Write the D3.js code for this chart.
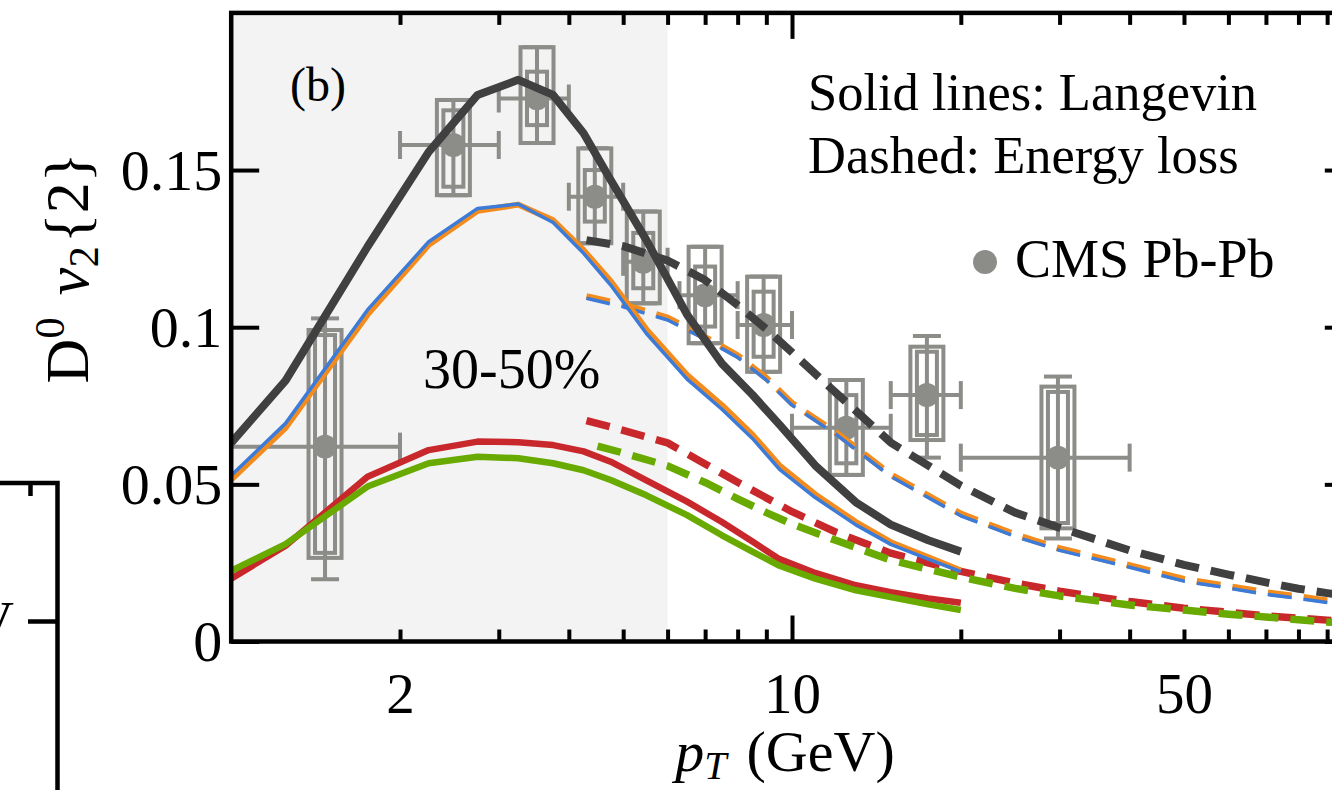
<!DOCTYPE html>
<html>
<head>
<meta charset="utf-8">
<script src="https://cdn.jsdelivr.net/npm/d3@7"></script>
<style>
body { margin: 0; background: #fff; }
svg { display: block; font-family: "Liberation Serif", "Times New Roman", serif; }
</style>
</head>
<body>
<div id="chart"></div>
<script>
// Langevin (solid) curves
const langevinPt = [1.0, 1.25, 1.75, 2.25, 2.75, 3.25, 3.75, 4.25, 4.75, 5.5, 6.5, 7.5, 8.5, 9.5, 11, 13, 15, 17.5, 20]
const langevinBlack = [0.0632, 0.0830, 0.1256, 0.1558, 0.1739, 0.1787, 0.1739, 0.1617, 0.1468, 0.1277, 0.1040, 0.0884, 0.0785, 0.0690, 0.0560, 0.0443, 0.0372, 0.0322, 0.0286]
const langevinOrange = [0.0515, 0.0680, 0.1040, 0.1262, 0.1370, 0.1390, 0.1340, 0.1245, 0.1146, 0.0993, 0.0848, 0.0752, 0.0658, 0.0560, 0.0468, 0.0380, 0.0316, 0.0268, 0.0226]
const langevinBlue = [0.0528, 0.0694, 0.1055, 0.1272, 0.1378, 0.1392, 0.1333, 0.1235, 0.1134, 0.0980, 0.0835, 0.0739, 0.0646, 0.0548, 0.0458, 0.0371, 0.0309, 0.0262, 0.0222]
const langevinRed = [0.0200, 0.0305, 0.0524, 0.0609, 0.0636, 0.0634, 0.0625, 0.0605, 0.0572, 0.0513, 0.0445, 0.0380, 0.0318, 0.0262, 0.0218, 0.0179, 0.0157, 0.0137, 0.0123]
const langevinGreen = [0.0225, 0.0310, 0.0493, 0.0567, 0.0588, 0.0583, 0.0567, 0.0545, 0.0514, 0.0465, 0.0402, 0.0338, 0.0286, 0.0241, 0.0200, 0.0163, 0.0141, 0.0118, 0.0100]

// energy loss (dashed) curves
const elossPt = [4.3, 5, 6, 7, 8, 9, 10, 12, 15, 20, 25, 30, 40, 50, 60, 70, 80, 90, 100]
const elossBlack = [0.1277, 0.1258, 0.1212, 0.1150, 0.1070, 0.0994, 0.0920, 0.0790, 0.0633, 0.0496, 0.0410, 0.0362, 0.0290, 0.0244, 0.0213, 0.0188, 0.0168, 0.0154, 0.0142]
const elossOrange = [0.1098, 0.1072, 0.1030, 0.0968, 0.0910, 0.0838, 0.0758, 0.0664, 0.0531, 0.0406, 0.0340, 0.0296, 0.0242, 0.0198, 0.0176, 0.0156, 0.0143, 0.0130, 0.0121]
const elossBlue = [0.1092, 0.1065, 0.1023, 0.0962, 0.0904, 0.0832, 0.0752, 0.0658, 0.0525, 0.0400, 0.0334, 0.0290, 0.0236, 0.0192, 0.0170, 0.0150, 0.0137, 0.0124, 0.0115]
const elossRed = [0.0703, 0.0672, 0.0632, 0.0565, 0.0507, 0.0457, 0.0413, 0.0347, 0.0281, 0.0223, 0.0186, 0.0160, 0.0127, 0.0106, 0.0093, 0.0082, 0.0074, 0.0068, 0.0063]
const elossGreenPt = [4.5, 5, 6, 7, 8, 9, 10, 12, 15, 20, 25, 30, 40, 50, 60, 70, 80, 90, 100]
const elossGreen = [0.0622, 0.0600, 0.0559, 0.0506, 0.0454, 0.0410, 0.0374, 0.0321, 0.0259, 0.0205, 0.0169, 0.0145, 0.0116, 0.0100, 0.0087, 0.0078, 0.0069, 0.0062, 0.0057]

// CMS Pb-Pb data
const cmsPt = [1.47, 2.49, 3.51, 4.45, 5.43, 7.0, 8.9, 12.5, 17.4, 29.8]
const cmsV2 = [0.0620, 0.1580, 0.1728, 0.1415, 0.1208, 0.1102, 0.1007, 0.0680, 0.0784, 0.0585]
const cmsPtLo = [1.0, 2, 3, 4, 5, 6.3, 8, 10, 15, 20]
const cmsPtHi = [2, 3, 4, 5, 6, 8, 10, 15, 20, 40]
const cmsStatLo = [0.0198, 0.1420, 0.1586, 0.1267, 0.1076, 0.0949, 0.0858, 0.0530, 0.0585, 0.0328]
const cmsStatHi = [0.1028, 0.1723, 0.1891, 0.1569, 0.1368, 0.1256, 0.1161, 0.0832, 0.0972, 0.0843]
const cmsSysLo = [0.0266, 0.1420, 0.1586, 0.1267, 0.1076, 0.0949, 0.0858, 0.0530, 0.0641, 0.0360]
const cmsSysHi = [0.0991, 0.1723, 0.1891, 0.1569, 0.1368, 0.1256, 0.1161, 0.0832, 0.0938, 0.0811]
const cmsSys2Lo = [0.0282, 0.1447, 0.1643, 0.1336, 0.1124, 0.1002, 0.0906, 0.0567, 0.0657, 0.0377]
const cmsSys2Hi = [0.0975, 0.1690, 0.1813, 0.1500, 0.1300, 0.1193, 0.1113, 0.0784, 0.0922, 0.0794]

const xMinorTicks = [2, 3, 4, 5, 6, 7, 8, 9, 20, 30, 40, 50, 60, 70, 80, 90]
const xMajorTicks = [10]
const xTickLabels = [2, 10, 50]
const yTicks = [0, 0.05, 0.1, 0.15]
const yTickLabels = ["0", "0.05", "0.1", "0.15"]

const width = 1332, height = 790
const gray = "#8c8d89"

const svg = d3.select("#chart").append("svg")
  .attr("width", width)
  .attr("height", height)

const x = d3.scaleLog().domain([1, 100]).range([231.2, 1352.8])
const y = d3.scaleLinear().domain([0, 0.2]).range([641.5, 12.9])

svg.append("clipPath").attr("id", "plotclip")
  .append("rect")
  .attr("x", x(1)).attr("y", y(0.2))
  .attr("width", x(100) - x(1)).attr("height", y(0) - y(0.2))

// shaded low-pT region
svg.append("rect")
  .attr("x", x(1)).attr("y", y(0.2))
  .attr("width", x(6) - x(1)).attr("height", y(0) - y(0.2))
  .attr("fill", "#f3f3f3")

const plot = svg.append("g").attr("clip-path", "url(#plotclip)")

// CMS points
const cms = cmsPt.map((p, i) => ({
  pt: p, v: cmsV2[i], lo: cmsPtLo[i], hi: cmsPtHi[i],
  sLo: cmsStatLo[i], sHi: cmsStatHi[i],
  yLo: cmsSysLo[i], yHi: cmsSysHi[i],
  y2Lo: cmsSys2Lo[i], y2Hi: cmsSys2Hi[i]
}))

const pts = plot.append("g")
  .attr("stroke", gray)
  .attr("fill", "none")
  .attr("stroke-width", 4)
  .selectAll("g")
  .data(cms)
  .enter()
  .append("g")

pts.append("line")
  .attr("x1", d => x(d.lo)).attr("x2", d => x(d.hi))
  .attr("y1", d => y(d.v)).attr("y2", d => y(d.v))
pts.append("line")
  .attr("x1", d => x(d.lo)).attr("x2", d => x(d.lo))
  .attr("y1", d => y(d.v) - 14).attr("y2", d => y(d.v) + 14)
pts.append("line")
  .attr("x1", d => x(d.hi)).attr("x2", d => x(d.hi))
  .attr("y1", d => y(d.v) - 14).attr("y2", d => y(d.v) + 14)
pts.append("rect")
  .attr("x", d => x(d.pt) - 16.5).attr("width", 33)
  .attr("y", d => y(d.yHi)).attr("height", d => y(d.yLo) - y(d.yHi))
pts.append("rect")
  .attr("x", d => x(d.pt) - 10).attr("width", 20)
  .attr("y", d => y(d.y2Hi)).attr("height", d => y(d.y2Lo) - y(d.y2Hi))
pts.append("line")
  .attr("x1", d => x(d.pt)).attr("x2", d => x(d.pt))
  .attr("y1", d => y(d.sHi)).attr("y2", d => y(d.sLo))
pts.append("line")
  .attr("x1", d => x(d.pt) - 14).attr("x2", d => x(d.pt) + 14)
  .attr("y1", d => y(d.sHi)).attr("y2", d => y(d.sHi))
pts.append("line")
  .attr("x1", d => x(d.pt) - 14).attr("x2", d => x(d.pt) + 14)
  .attr("y1", d => y(d.sLo)).attr("y2", d => y(d.sLo))
pts.append("circle")
  .attr("cx", d => x(d.pt)).attr("cy", d => y(d.v))
  .attr("r", 12)
  .attr("stroke", "none")
  .attr("fill", gray)

// curves
const line = d3.line().x(d => x(d[0])).y(d => y(d[1]))

const curves = [
  {pt: elossPt, v: elossRed, color: "#c8282c", w: 7.5, dash: "24,12"},
  {pt: elossGreenPt, v: elossGreen, color: "#68aa00", w: 7.5, dash: "24,12"},
  {pt: elossPt, v: elossOrange, color: "#f38b1d", w: 6.5, dash: "24,12"},
  {pt: elossPt, v: elossBlue, color: "#3c7bd8", w: 3.5, dash: "24,12"},
  {pt: elossPt, v: elossBlack, color: "#404040", w: 8, dash: "24,12"},
  {pt: langevinPt, v: langevinRed, color: "#c8282c", w: 6.5, dash: null},
  {pt: langevinPt, v: langevinGreen, color: "#68aa00", w: 6.5, dash: null},
  {pt: langevinPt, v: langevinOrange, color: "#f38b1d", w: 6, dash: null},
  {pt: langevinPt, v: langevinBlue, color: "#3c7bd8", w: 3.5, dash: null},
  {pt: langevinPt, v: langevinBlack, color: "#404040", w: 8, dash: null}
]

plot.append("g")
  .selectAll("path")
  .data(curves)
  .enter()
  .append("path")
  .attr("d", c => line(d3.zip(c.pt, c.v)))
  .attr("fill", "none")
  .attr("stroke", c => c.color)
  .attr("stroke-width", c => c.w)
  .attr("stroke-dasharray", c => c.dash)
  .attr("stroke-linejoin", "round")

// axes
const tickStyle = g => {
  g.select(".domain").remove()
  g.selectAll(".tick line").attr("stroke", "black").attr("stroke-width", 4)
}

svg.append("g").attr("transform", `translate(0,${y(0)})`)
  .call(d3.axisBottom(x).tickValues(xMinorTicks).tickSize(-12).tickFormat(""))
  .call(tickStyle)
svg.append("g").attr("transform", `translate(0,${y(0)})`)
  .call(d3.axisBottom(x).tickValues(xMajorTicks).tickSize(-26).tickFormat(""))
  .call(tickStyle)
svg.append("g").attr("transform", `translate(0,${y(0.2)})`)
  .call(d3.axisTop(x).tickValues(xMinorTicks).tickSize(-12).tickFormat(""))
  .call(tickStyle)
svg.append("g").attr("transform", `translate(0,${y(0.2)})`)
  .call(d3.axisTop(x).tickValues(xMajorTicks).tickSize(-26).tickFormat(""))
  .call(tickStyle)

svg.append("g").attr("transform", `translate(0,${y(0)})`)
  .call(d3.axisBottom(x).tickValues(xTickLabels).tickSize(0).tickPadding(31).tickFormat(d3.format("d")))
  .call(tickStyle)
  .attr("font-size", null).attr("font-family", null)
  .selectAll("text").style("font-size", "57px").attr("fill", "black")

svg.append("g").attr("transform", `translate(${x(1)},0)`)
  .call(d3.axisLeft(y).tickValues(yTicks).tickSize(-28).tickPadding(9).tickFormat((d, i) => yTickLabels[i]))
  .call(tickStyle)
  .attr("font-size", null).attr("font-family", null)
  .selectAll("text").style("font-size", "58px").attr("fill", "black").attr("dy", "0.33em")

svg.append("g").attr("transform", `translate(${x(100)},0)`)
  .call(d3.axisRight(y).tickValues(yTicks).tickSize(-28).tickFormat(""))
  .call(tickStyle)

// frame
svg.append("rect")
  .attr("x", x(1)).attr("y", y(0.2))
  .attr("width", x(100) - x(1)).attr("height", y(0) - y(0.2))
  .attr("fill", "none")
  .attr("stroke", "black")
  .attr("stroke-width", 4.5)

// axis titles
const xTitle = svg.append("text")
  .attr("x", 785).attr("y", 771)
  .attr("text-anchor", "middle")
  .style("font-size", "58px")
xTitle.append("tspan").style("font-style", "italic").text("p")
xTitle.append("tspan").attr("dy", 8).style("font-size", "40px").style("font-style", "italic").text("T")
xTitle.append("tspan").attr("dy", -8).attr("dx", 20).text("(GeV)")

const yTitle = svg.append("text")
  .attr("transform", "translate(88,268) rotate(-90)")
  .attr("text-anchor", "middle")
  .style("font-size", "62px")
yTitle.append("tspan").text("D")
yTitle.append("tspan").attr("dy", -24).style("font-size", "43px").text("0")
yTitle.append("tspan").attr("dy", 24).attr("dx", 22).style("font-style", "italic").text("v")
yTitle.append("tspan").attr("dy", 10).style("font-size", "43px").text("2")
yTitle.append("tspan").attr("dy", -10).attr("dx", 3).text("{2}")

// annotations
svg.append("text").attr("x", 290).attr("y", 101).style("font-size", "48px").text("(b)")
svg.append("text").attr("x", 423).attr("y", 388).style("font-size", "56px").text("30-50%")
svg.append("text").attr("x", 808).attr("y", 110).style("font-size", "52.5px").text("Solid lines: Langevin")
svg.append("text").attr("x", 808).attr("y", 173).style("font-size", "52.5px").text("Dashed: Energy loss")

svg.append("circle").attr("cx", 985).attr("cy", 262).attr("r", 12).attr("fill", gray)
svg.append("text").attr("x", 1015).attr("y", 277).style("font-size", "54px").text("CMS Pb-Pb")

// corner of neighbouring panel (a)
const side = svg.append("g").attr("stroke", "black").attr("stroke-width", 4.5).attr("fill", "none")
side.append("path").attr("d", "M0,483 H57.5 V790")
side.append("line").attr("x1", 30.5).attr("x2", 30.5).attr("y1", 483).attr("y2", 496)
side.append("line").attr("x1", 28).attr("x2", 57.5).attr("y1", 621.5).attr("y2", 621.5)
svg.append("text").attr("x", 14).attr("y", 639).attr("text-anchor", "end").style("font-size", "55px").text("GeV")
</script>
</body>
</html>
